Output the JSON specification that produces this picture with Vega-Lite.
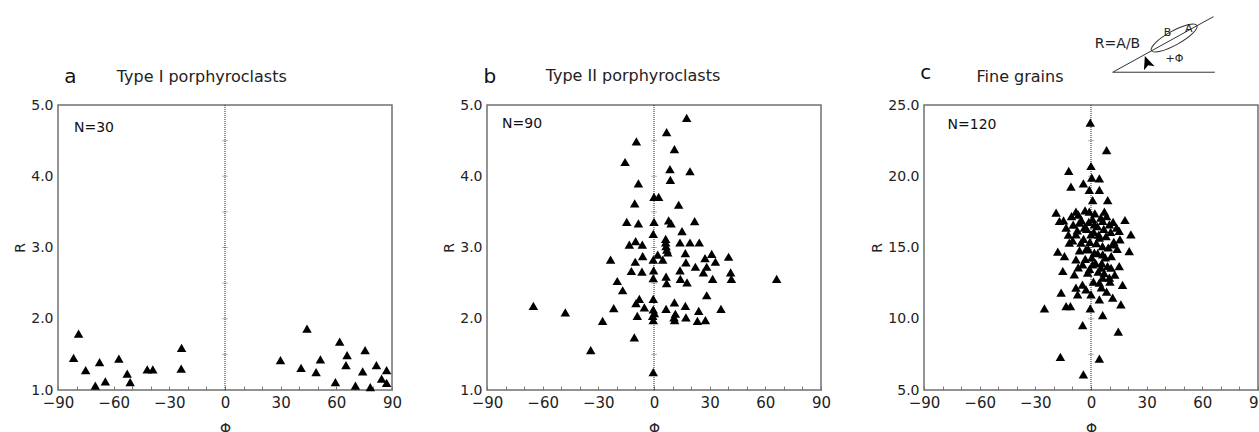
{
"$schema": "https://vega.github.io/schema/vega-lite/v6.json",
"padding": {"left": 12, "top": 15, "right": 0, "bottom": 0},
"spacing": 38,
"config": {
  "font": "DejaVu Sans",
  "view": {"stroke": "#707070", "strokeWidth": 1.5},
  "axis": {"grid": false, "domain": false, "labelFontSize": 14, "titleFontSize": 14, "titleFontWeight": "normal", "labelColor": "#222", "titleColor": "#222", "tickColor": "#777"},
  "axisX": {"labelFontSize": 15}
},
"datasets": {
  "a": [{"phi":-81.6,"r":1.45},{"phi":-78.9,"r":1.79},{"phi":-75.1,"r":1.28},{"phi":-69.9,"r":1.06},{"phi":-67.6,"r":1.39},{"phi":-64.5,"r":1.12},{"phi":-57.2,"r":1.44},{"phi":-52.7,"r":1.23},{"phi":-51.1,"r":1.11},{"phi":-41.9,"r":1.29},{"phi":-38.9,"r":1.29},{"phi":-23.4,"r":1.59},{"phi":-23.6,"r":1.30},{"phi":29.9,"r":1.42},{"phi":41.0,"r":1.31},{"phi":44.2,"r":1.86},{"phi":49.1,"r":1.25},{"phi":51.4,"r":1.43},{"phi":59.5,"r":1.11},{"phi":61.8,"r":1.68},{"phi":65.8,"r":1.49},{"phi":65.2,"r":1.35},{"phi":70.3,"r":1.06},{"phi":75.5,"r":1.56},{"phi":74.2,"r":1.26},{"phi":78.3,"r":1.04},{"phi":81.6,"r":1.35},{"phi":84.4,"r":1.16},{"phi":87.1,"r":1.28},{"phi":87.1,"r":1.10}],
  "b": [{"phi":17.6,"r":4.82},{"phi":6.8,"r":4.62},{"phi":-9.5,"r":4.49},{"phi":11.0,"r":4.38},{"phi":-15.6,"r":4.20},{"phi":8.6,"r":4.10},{"phi":19.4,"r":4.07},{"phi":8.8,"r":3.95},{"phi":-8.4,"r":3.90},{"phi":0,"r":3.71},{"phi":2.5,"r":3.71},{"phi":-10.4,"r":3.62},{"phi":13.3,"r":3.60},{"phi":-14.7,"r":3.36},{"phi":-8.4,"r":3.34},{"phi":0,"r":3.36},{"phi":7.9,"r":3.38},{"phi":9.2,"r":3.34},{"phi":21.9,"r":3.37},{"phi":15.1,"r":3.23},{"phi":-0.4,"r":3.19},{"phi":-13.3,"r":3.04},{"phi":-9.9,"r":3.09},{"phi":-6.3,"r":3.04},{"phi":6.3,"r":3.12},{"phi":6.3,"r":3.07},{"phi":6.5,"r":3.02},{"phi":14.0,"r":3.07},{"phi":19.4,"r":3.07},{"phi":24.4,"r":3.07},{"phi":-23.4,"r":2.83},{"phi":-10.1,"r":2.80},{"phi":-6.1,"r":2.88},{"phi":-0.4,"r":2.83},{"phi":4.7,"r":2.83},{"phi":7.4,"r":2.93},{"phi":16.9,"r":2.92},{"phi":17.2,"r":2.79},{"phi":27.5,"r":2.85},{"phi":31.1,"r":2.91},{"phi":33.1,"r":2.80},{"phi":40.2,"r":2.87},{"phi":-12.2,"r":2.67},{"phi":-6.5,"r":2.66},{"phi":-0.2,"r":2.68},{"phi":-0.4,"r":2.57},{"phi":6.5,"r":2.59},{"phi":6.8,"r":2.50},{"phi":14.0,"r":2.68},{"phi":14.2,"r":2.56},{"phi":17.8,"r":2.51},{"phi":22.3,"r":2.73},{"phi":26.6,"r":2.65},{"phi":28.4,"r":2.73},{"phi":31.6,"r":2.56},{"phi":41.3,"r":2.65},{"phi":41.7,"r":2.56},{"phi":66.1,"r":2.56},{"phi":-19.8,"r":2.53},{"phi":-16.9,"r":2.40},{"phi":28.4,"r":2.33},{"phi":-65.0,"r":2.18},{"phi":-47.8,"r":2.09},{"phi":-21.7,"r":2.15},{"phi":-7.9,"r":2.28},{"phi":-9.7,"r":2.22},{"phi":-5.2,"r":2.16},{"phi":-0.4,"r":2.28},{"phi":-0.4,"r":2.13},{"phi":11.0,"r":2.23},{"phi":6.5,"r":2.14},{"phi":16.9,"r":2.18},{"phi":24.1,"r":2.11},{"phi":36.1,"r":2.14},{"phi":-27.7,"r":1.97},{"phi":-9.0,"r":2.04},{"phi":-0.7,"r":2.04},{"phi":-0.4,"r":1.98},{"phi":10.8,"r":2.02},{"phi":11.1,"r":1.98},{"phi":17.2,"r":2.02},{"phi":23.4,"r":1.97},{"phi":27.7,"r":1.98},{"phi":-10.6,"r":1.74},{"phi":-34.1,"r":1.56},{"phi":-0.4,"r":1.25},{"phi":0.2,"r":2.08},{"phi":11.5,"r":2.07},{"phi":6.9,"r":2.97},{"phi":2.0,"r":2.90}],
  "c": [{"phi":-0.4,"r":23.76},{"phi":8.4,"r":21.84},{"phi":0,"r":20.72},{"phi":-12,"r":20.37},{"phi":0.4,"r":19.9},{"phi":4.5,"r":19.85},{"phi":-4.1,"r":19.5},{"phi":-10.8,"r":19.27},{"phi":-0.9,"r":19.04},{"phi":4.5,"r":19.04},{"phi":0.9,"r":18.33},{"phi":9,"r":18.33},{"phi":-18.8,"r":17.44},{"phi":-8.1,"r":17.51},{"phi":-0.9,"r":17.51},{"phi":7.2,"r":17.51},{"phi":18.3,"r":16.93},{"phi":-17,"r":16.86},{"phi":-13.4,"r":16.39},{"phi":-6.3,"r":16.74},{"phi":-3.6,"r":16.39},{"phi":1.8,"r":16.63},{"phi":6.3,"r":16.86},{"phi":9.9,"r":16.63},{"phi":15.2,"r":16.16},{"phi":21.5,"r":15.92},{"phi":15.6,"r":15.57},{"phi":-8.1,"r":15.92},{"phi":0,"r":15.92},{"phi":4.5,"r":15.69},{"phi":-11.7,"r":15.34},{"phi":-5.4,"r":15.34},{"phi":11.7,"r":15.22},{"phi":-17.9,"r":14.71},{"phi":-14.3,"r":14.4},{"phi":20.6,"r":14.75},{"phi":-2.7,"r":14.87},{"phi":1.8,"r":14.64},{"phi":6.3,"r":14.52},{"phi":-8.1,"r":14.17},{"phi":-4.5,"r":13.82},{"phi":-15.2,"r":13.35},{"phi":0.9,"r":13.82},{"phi":5.4,"r":13.58},{"phi":10.8,"r":13.58},{"phi":15.2,"r":13.7},{"phi":-9,"r":13.12},{"phi":-1.8,"r":13.23},{"phi":6.3,"r":12.88},{"phi":9.9,"r":12.88},{"phi":4.5,"r":12.53},{"phi":17,"r":12.37},{"phi":-8.1,"r":12.18},{"phi":-2.7,"r":12.06},{"phi":-16.1,"r":11.83},{"phi":-7.2,"r":11.71},{"phi":0,"r":11.71},{"phi":4.5,"r":11.36},{"phi":11.7,"r":11.48},{"phi":-25.1,"r":10.73},{"phi":-13.4,"r":10.89},{"phi":-11.1,"r":10.89},{"phi":-0.4,"r":10.73},{"phi":16.1,"r":11.01},{"phi":6.3,"r":10.26},{"phi":-4.5,"r":9.56},{"phi":14.7,"r":9.09},{"phi":-16.5,"r":7.32},{"phi":4.5,"r":7.2},{"phi":-4.1,"r":6.1},{"phi":-10.5,"r":17.2},{"phi":-6.8,"r":17.3},{"phi":-3.2,"r":17.6},{"phi":2.1,"r":17.4},{"phi":5.3,"r":17.1},{"phi":8.4,"r":17.2},{"phi":11.9,"r":16.8},{"phi":-14.8,"r":16.9},{"phi":-9.6,"r":16.6},{"phi":-5.1,"r":16.9},{"phi":-1.2,"r":16.8},{"phi":0.8,"r":17.0},{"phi":3.4,"r":16.5},{"phi":6.9,"r":16.3},{"phi":10.6,"r":16.1},{"phi":13.8,"r":16.4},{"phi":-12.2,"r":15.9},{"phi":-7.4,"r":16.2},{"phi":-2.3,"r":16.3},{"phi":1.5,"r":16.1},{"phi":4.2,"r":15.9},{"phi":8.1,"r":15.8},{"phi":12.3,"r":15.4},{"phi":-9.9,"r":15.5},{"phi":-4.0,"r":15.6},{"phi":-0.6,"r":15.4},{"phi":2.9,"r":15.3},{"phi":6.2,"r":15.1},{"phi":9.3,"r":15.0},{"phi":14.1,"r":14.9},{"phi":-6.2,"r":14.8},{"phi":-1.5,"r":14.9},{"phi":3.6,"r":14.6},{"phi":7.7,"r":14.3},{"phi":10.9,"r":14.4},{"phi":-3.1,"r":14.2},{"phi":0.4,"r":14.3},{"phi":2.5,"r":13.9},{"phi":5.8,"r":13.9},{"phi":8.9,"r":13.7},{"phi":12.8,"r":13.1},{"phi":-6.9,"r":13.6},{"phi":-0.8,"r":13.5},{"phi":3.9,"r":13.3},{"phi":7.1,"r":13.2},{"phi":10.2,"r":12.6},{"phi":1.3,"r":12.6},{"phi":-4.6,"r":12.4},{"phi":5.6,"r":12.2},{"phi":8.4,"r":11.9}],
  "ticksA": [{"r":1.5},{"r":2.0},{"r":2.5},{"r":3.0},{"r":3.5},{"r":4.0},{"r":4.5}],
  "ticksB": [{"r":1.5},{"r":2.0},{"r":2.5},{"r":3.0},{"r":3.5},{"r":4.0},{"r":4.5}],
  "ticksC": [{"r":7.5},{"r":10},{"r":12.5},{"r":15},{"r":17.5},{"r":20},{"r":22.5}],
  "one": [{}]
},
"hconcat": [
 {
  "width": 334, "height": 285,
  "layer": [
   {"data": {"name": "ticksA"}, "mark": {"type": "tick", "orient": "horizontal", "size": 6, "thickness": 1, "color": "#999"},
    "encoding": {"x": {"datum": 0, "type": "quantitative", "scale": {"domain": [-90, 90], "nice": false}, "title": "Φ"},
                 "y": {"field": "r", "type": "quantitative", "scale": {"domain": [1, 5], "nice": false}, "title": "R"}}},
   {"data": {"name": "one"}, "mark": {"type": "rule", "color": "#222", "strokeDash": [1, 1], "strokeWidth": 1},
    "encoding": {"x": {"datum": 0, "type": "quantitative", "scale": {"domain": [-90, 90], "nice": false}, "title": "Φ"}}},
   {"data": {"name": "a"}, "mark": {"type": "point", "shape": "triangle-up", "filled": true, "size": 90, "color": "black", "opacity": 1},
    "encoding": {
      "x": {"field": "phi", "type": "quantitative", "scale": {"domain": [-90, 90], "nice": false}, "title": "Φ",
            "axis": {"tickCount": 18, "labelExpr": "datum.value % 30 === 0 ? datum.label : ''", "tickSize": -4, "labelPadding": 9, "labelFlush": false, "labelOverlap": false, "titlePadding": 11}},
      "y": {"field": "r", "type": "quantitative", "scale": {"domain": [1, 5], "nice": false}, "title": "R",
            "axis": {"tickCount": 5, "format": ".1f", "ticks": false, "labelPadding": 5, "labelOverlap": false, "titlePadding": 3}}}},
   {"data": {"name": "one"}, "mark": {"type": "text", "text": "N=30", "align": "left", "baseline": "middle", "fontSize": 14, "color": "#111"},
    "encoding": {"x": {"datum": -81.4, "type": "quantitative", "scale": {"domain": [-90, 90], "nice": false}, "title": "Φ"},
                 "y": {"datum": 4.68, "type": "quantitative", "scale": {"domain": [1, 5], "nice": false}, "title": "R"}}},
   {"data": {"name": "one"}, "mark": {"type": "text", "text": "a", "align": "center", "baseline": "alphabetic", "fontSize": 20, "color": "#111"},
    "encoding": {"x": {"datum": -83.3, "type": "quantitative", "scale": {"domain": [-90, 90], "nice": false}, "title": "Φ"},
                 "y": {"datum": 5.31, "type": "quantitative", "scale": {"domain": [1, 5], "nice": false}, "title": "R"}}},
   {"data": {"name": "one"}, "mark": {"type": "text", "text": "Type I porphyroclasts", "align": "left", "baseline": "alphabetic", "fontSize": 16, "color": "#222"},
    "encoding": {"x": {"datum": -58.3, "type": "quantitative", "scale": {"domain": [-90, 90], "nice": false}, "title": "Φ"},
                 "y": {"datum": 5.32, "type": "quantitative", "scale": {"domain": [1, 5], "nice": false}, "title": "R"}}}
  ]
 },
 {
  "width": 334, "height": 285,
  "layer": [
   {"data": {"name": "ticksB"}, "mark": {"type": "tick", "orient": "horizontal", "size": 6, "thickness": 1, "color": "#999"},
    "encoding": {"x": {"datum": 0, "type": "quantitative", "scale": {"domain": [-90, 90], "nice": false}, "title": "Φ"},
                 "y": {"field": "r", "type": "quantitative", "scale": {"domain": [1, 5], "nice": false}, "title": "R"}}},
   {"data": {"name": "one"}, "mark": {"type": "rule", "color": "#222", "strokeDash": [1, 1], "strokeWidth": 1},
    "encoding": {"x": {"datum": 0, "type": "quantitative", "scale": {"domain": [-90, 90], "nice": false}, "title": "Φ"}}},
   {"data": {"name": "b"}, "mark": {"type": "point", "shape": "triangle-up", "filled": true, "size": 90, "color": "black", "opacity": 1},
    "encoding": {
      "x": {"field": "phi", "type": "quantitative", "scale": {"domain": [-90, 90], "nice": false}, "title": "Φ",
            "axis": {"tickCount": 18, "labelExpr": "datum.value % 30 === 0 ? datum.label : ''", "tickSize": -4, "labelPadding": 9, "labelFlush": false, "labelOverlap": false, "titlePadding": 11}},
      "y": {"field": "r", "type": "quantitative", "scale": {"domain": [1, 5], "nice": false}, "title": "R",
            "axis": {"tickCount": 5, "format": ".1f", "ticks": false, "labelPadding": 5, "labelOverlap": false, "titlePadding": 3}}}},
   {"data": {"name": "one"}, "mark": {"type": "text", "text": "N=90", "align": "left", "baseline": "middle", "fontSize": 14, "color": "#111"},
    "encoding": {"x": {"datum": -81.9, "type": "quantitative", "scale": {"domain": [-90, 90], "nice": false}, "title": "Φ"},
                 "y": {"datum": 4.73, "type": "quantitative", "scale": {"domain": [1, 5], "nice": false}, "title": "R"}}},
   {"data": {"name": "one"}, "mark": {"type": "text", "text": "b", "align": "center", "baseline": "alphabetic", "fontSize": 20, "color": "#111"},
    "encoding": {"x": {"datum": -88.5, "type": "quantitative", "scale": {"domain": [-90, 90], "nice": false}, "title": "Φ"},
                 "y": {"datum": 5.31, "type": "quantitative", "scale": {"domain": [1, 5], "nice": false}, "title": "R"}}},
   {"data": {"name": "one"}, "mark": {"type": "text", "text": "Type II porphyroclasts", "align": "left", "baseline": "alphabetic", "fontSize": 16, "color": "#222"},
    "encoding": {"x": {"datum": -58.4, "type": "quantitative", "scale": {"domain": [-90, 90], "nice": false}, "title": "Φ"},
                 "y": {"datum": 5.34, "type": "quantitative", "scale": {"domain": [1, 5], "nice": false}, "title": "R"}}}
  ]
 },
 {
  "width": 334, "height": 285,
  "layer": [
   {"data": {"name": "ticksC"}, "mark": {"type": "tick", "orient": "horizontal", "size": 6, "thickness": 1, "color": "#999"},
    "encoding": {"x": {"datum": 0, "type": "quantitative", "scale": {"domain": [-90, 90], "nice": false}, "title": "Φ"},
                 "y": {"field": "r", "type": "quantitative", "scale": {"domain": [5, 25], "nice": false}, "title": "R"}}},
   {"data": {"name": "one"}, "mark": {"type": "rule", "color": "#222", "strokeDash": [1, 1], "strokeWidth": 1},
    "encoding": {"x": {"datum": 0, "type": "quantitative", "scale": {"domain": [-90, 90], "nice": false}, "title": "Φ"}}},
   {"data": {"name": "c"}, "mark": {"type": "point", "shape": "triangle-up", "filled": true, "size": 90, "color": "black", "opacity": 1},
    "encoding": {
      "x": {"field": "phi", "type": "quantitative", "scale": {"domain": [-90, 90], "nice": false}, "title": "Φ",
            "axis": {"tickCount": 18, "labelExpr": "datum.value % 30 === 0 ? datum.label : ''", "tickSize": -4, "labelPadding": 9, "labelFlush": false, "labelOverlap": false, "titlePadding": 11}},
      "y": {"field": "r", "type": "quantitative", "scale": {"domain": [5, 25], "nice": false}, "title": "R",
            "axis": {"tickCount": 5, "format": ".1f", "ticks": false, "labelPadding": 5, "labelOverlap": false, "titlePadding": 3}}}},
   {"data": {"name": "one"}, "mark": {"type": "text", "text": "N=120", "align": "left", "baseline": "middle", "fontSize": 14, "color": "#111"},
    "encoding": {"x": {"datum": -77.3, "type": "quantitative", "scale": {"domain": [-90, 90], "nice": false}, "title": "Φ"},
                 "y": {"datum": 23.58, "type": "quantitative", "scale": {"domain": [5, 25], "nice": false}, "title": "R"}}},
   {"data": {"name": "one"}, "mark": {"type": "text", "text": "c", "align": "center", "baseline": "alphabetic", "fontSize": 20, "color": "#111"},
    "encoding": {"x": {"datum": -89.0, "type": "quantitative", "scale": {"domain": [-90, 90], "nice": false}, "title": "Φ"},
                 "y": {"datum": 26.8, "type": "quantitative", "scale": {"domain": [5, 25], "nice": false}, "title": "R"}}},
   {"data": {"name": "one"}, "mark": {"type": "text", "text": "Fine grains", "align": "left", "baseline": "alphabetic", "fontSize": 16, "color": "#222"},
    "encoding": {"x": {"datum": -61.7, "type": "quantitative", "scale": {"domain": [-90, 90], "nice": false}, "title": "Φ"},
                 "y": {"datum": 26.61, "type": "quantitative", "scale": {"domain": [5, 25], "nice": false}, "title": "R"}}},
   {"data": {"name": "one"}, "mark": {"type": "rule", "color": "#333", "strokeWidth": 1},
    "encoding": {"x": {"datum": 11.7, "type": "quantitative", "scale": {"domain": [-90, 90], "nice": false}, "title": "Φ"},
                 "x2": {"datum": 66},
                 "y": {"datum": 27.3, "type": "quantitative", "scale": {"domain": [5, 25], "nice": false}, "title": "R"},
                 "y2": {"datum": 31.2}}},
   {"data": {"name": "one"}, "mark": {"type": "rule", "color": "#333", "strokeWidth": 1},
    "encoding": {"x": {"datum": 11.7, "type": "quantitative", "scale": {"domain": [-90, 90], "nice": false}, "title": "Φ"},
                 "x2": {"datum": 66.7},
                 "y": {"datum": 27.3, "type": "quantitative", "scale": {"domain": [5, 25], "nice": false}, "title": "R"},
                 "y2": {"datum": 27.3}}},
   {"data": {"name": "one"}, "mark": {"type": "point", "shape": "M-1,0A1,0.27,0,1,0,1,0A1,0.27,0,1,0,-1,0Z", "size": 2704, "angle": -29, "filled": false, "color": "#333", "strokeWidth": 1, "opacity": 1},
    "encoding": {"x": {"datum": 44.8, "type": "quantitative", "scale": {"domain": [-90, 90], "nice": false}, "title": "Φ"},
                 "y": {"datum": 29.7, "type": "quantitative", "scale": {"domain": [5, 25], "nice": false}, "title": "R"}}},
   {"data": {"name": "one"}, "mark": {"type": "point", "shape": "M0,-1L0.7,0.6L0,0.2L-0.7,0.6Z", "size": 260, "angle": -20, "filled": true, "color": "black", "opacity": 1},
    "encoding": {"x": {"datum": 30.5, "type": "quantitative", "scale": {"domain": [-90, 90], "nice": false}, "title": "Φ"},
                 "y": {"datum": 27.9, "type": "quantitative", "scale": {"domain": [5, 25], "nice": false}, "title": "R"}}},
   {"data": {"name": "one"}, "mark": {"type": "text", "text": "R=A/B", "align": "center", "baseline": "middle", "fontSize": 14, "color": "#222"},
    "encoding": {"x": {"datum": 14.3, "type": "quantitative", "scale": {"domain": [-90, 90], "nice": false}, "title": "Φ"},
                 "y": {"datum": 29.3, "type": "quantitative", "scale": {"domain": [5, 25], "nice": false}, "title": "R"}}},
   {"data": {"name": "one"}, "mark": {"type": "text", "text": "B", "align": "center", "baseline": "middle", "fontSize": 11, "color": "#222"},
    "encoding": {"x": {"datum": 41.2, "type": "quantitative", "scale": {"domain": [-90, 90], "nice": false}, "title": "Φ"},
                 "y": {"datum": 30.07, "type": "quantitative", "scale": {"domain": [5, 25], "nice": false}, "title": "R"}}},
   {"data": {"name": "one"}, "mark": {"type": "text", "text": "A", "align": "center", "baseline": "middle", "fontSize": 11, "color": "#222"},
    "encoding": {"x": {"datum": 52.7, "type": "quantitative", "scale": {"domain": [-90, 90], "nice": false}, "title": "Φ"},
                 "y": {"datum": 30.33, "type": "quantitative", "scale": {"domain": [5, 25], "nice": false}, "title": "R"}}},
   {"data": {"name": "one"}, "mark": {"type": "text", "text": "+Φ", "align": "center", "baseline": "middle", "fontSize": 11, "color": "#222"},
    "encoding": {"x": {"datum": 45.0, "type": "quantitative", "scale": {"domain": [-90, 90], "nice": false}, "title": "Φ"},
                 "y": {"datum": 28.2, "type": "quantitative", "scale": {"domain": [5, 25], "nice": false}, "title": "R"}}}
  ]
 }
]
}
